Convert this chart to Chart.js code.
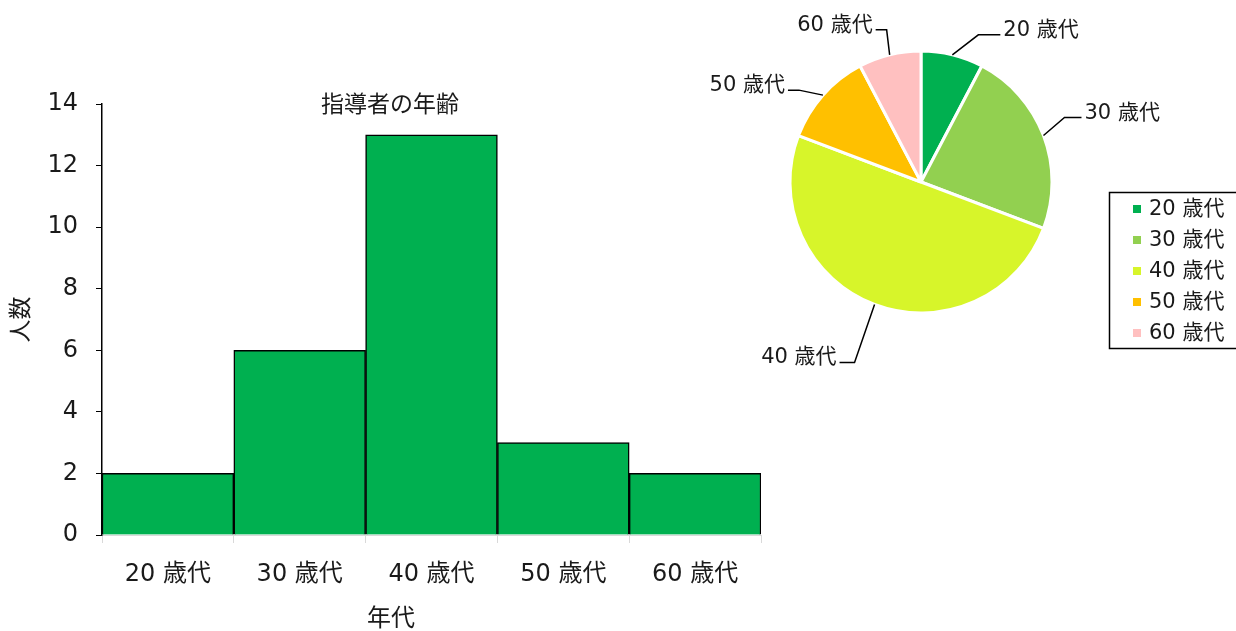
<!DOCTYPE html>
<html lang="ja">
<head>
  <meta charset="UTF-8" />
  <title>指導者の年齢</title>
  <script src="https://cdn.jsdelivr.net/npm/chart.js"></script>
  <style>
    body { margin: 0; background: #fff; }
    .wrap { position: relative; width: 1236px; height: 631px; overflow: hidden; }
    .wrap canvas { position: absolute; left: 0; top: 0; }
  </style>
</head>
<body>
  <div class="wrap">
    <canvas id="barChart" width="1236" height="631"></canvas>
    <canvas id="pieChart" width="1236" height="631"></canvas>
  </div>

  <script>
    const ageGroups = ['20 歳代', '30 歳代', '40 歳代', '50 歳代', '60 歳代'];
    const counts = [2, 6, 13, 3, 2];
    const yTicks = [0, 2, 4, 6, 8, 10, 12, 14];
    const pieColors = ['#00B050', '#92D050', '#D7F52A', '#FFC000', '#FFC0C0'];

    const FONT = '"DejaVu Sans", "Noto Sans CJK JP", sans-serif';
    const TEXT = '#1a1a1a';

    // titles that sit over the plot, centred on the left half
    const barTitles = {
      id: 'barTitles',
      afterDraw(chart) {
        const ctx = chart.ctx;
        ctx.save();
        ctx.fillStyle = TEXT;
        ctx.textAlign = 'center';
        ctx.textBaseline = 'middle';
        ctx.font = '23px ' + FONT;
        ctx.fillText('指導者の年齢', 390, 106);
        ctx.font = '24px ' + FONT;
        ctx.fillText('年代', 391, 620);
        ctx.restore();
      }
    };

    new Chart(document.getElementById('barChart'), {
      type: 'bar',
      data: {
        labels: ageGroups,
        datasets: [{
          data: counts,
          backgroundColor: '#00B050',
          borderColor: '#000',
          borderWidth: 1.5,
          barPercentage: 1,
          categoryPercentage: 1
        }]
      },
      options: {
        responsive: false,
        animation: false,
        layout: { padding: { left: 0, right: 475, top: 104, bottom: 0 } },
        plugins: { legend: { display: false }, tooltip: { enabled: false } },
        scales: {
          x: {
            offset: true,
            grid: { display: true, drawOnChartArea: false, offset: true, tickLength: 8, color: '#d9d9d9' },
            border: { color: '#d9d9d9' },
            ticks: { color: TEXT, font: { family: FONT, size: 24 }, padding: 17, maxRotation: 0 },
            afterFit(scale) { scale.height = 96; }
          },
          y: {
            min: 0,
            max: 14,
            afterBuildTicks(scale) { scale.ticks = yTicks.map(v => ({ value: v })); },
            grid: { display: true, drawOnChartArea: false, tickLength: 6, color: '#000' },
            border: { color: '#000', width: 1.5 },
            ticks: { color: TEXT, font: { family: FONT, size: 24 }, padding: 18 },
            title: { display: true, text: '人数', color: TEXT, font: { family: FONT, size: 23 }, padding: { top: 8 } },
            afterFit(scale) { scale.width = 102; }
          }
        }
      },
      plugins: [barTitles]
    });

    // leader geometry per slice: elbow offset from the slice edge, then tail length
    const leaders = [
      { dx: 26, dy: -20, tail: 22 },
      { dx: 21, dy: -18, tail: 17 },
      { dx: -20, dy: 58, tail: -15 },
      { dx: -24, dy: -5, tail: -11 },
      { dx: -3, dy: -25, tail: -11 }
    ];

    const pieLabels = {
      id: 'pieLabels',
      afterDatasetsDraw(chart) {
        const ctx = chart.ctx;
        const arcs = chart.getDatasetMeta(0).data;
        ctx.save();
        ctx.strokeStyle = '#000';
        ctx.lineWidth = 1.5;
        ctx.fillStyle = TEXT;
        ctx.font = '21px ' + FONT;
        ctx.textBaseline = 'alphabetic';
        arcs.forEach((arc, i) => {
          const p = arc.getProps(['x', 'y', 'startAngle', 'endAngle', 'outerRadius'], true);
          const mid = (p.startAngle + p.endAngle) / 2;
          const sx = p.x + Math.cos(mid) * p.outerRadius;
          const sy = p.y + Math.sin(mid) * p.outerRadius;
          const L = leaders[i];
          const ex = sx + L.dx, ey = sy + L.dy;
          const tx = ex + L.tail;
          ctx.beginPath();
          ctx.moveTo(sx, sy);
          ctx.lineTo(ex, ey);
          ctx.lineTo(tx, ey);
          ctx.stroke();
          ctx.textAlign = L.tail > 0 ? 'left' : 'right';
          ctx.fillText(chart.data.labels[i], tx + (L.tail > 0 ? 3 : -3), ey + 1);
        });
        ctx.restore();
      },
      afterDraw(chart) {
        const ctx = chart.ctx;
        const ds = chart.data.datasets[0];
        ctx.save();
        ctx.strokeStyle = '#000';
        ctx.lineWidth = 1.5;
        ctx.strokeRect(1109.5, 192.5, 140, 156);
        ctx.font = '21px ' + FONT;
        ctx.textAlign = 'left';
        ctx.textBaseline = 'middle';
        chart.data.labels.forEach((lab, i) => {
          const cy = 209 + i * 31;
          ctx.fillStyle = ds.backgroundColor[i];
          ctx.fillRect(1133, cy - 4, 8, 8);
          ctx.fillStyle = TEXT;
          ctx.fillText(lab, 1149, cy + 1);
        });
        ctx.restore();
      }
    };

    new Chart(document.getElementById('pieChart'), {
      type: 'pie',
      data: {
        labels: ageGroups,
        datasets: [{
          data: counts,
          backgroundColor: pieColors,
          borderColor: '#fff',
          borderWidth: 3
        }]
      },
      options: {
        responsive: false,
        animation: false,
        radius: 131,
        layout: { padding: { left: 791, right: 185, top: 52, bottom: 319 } },
        plugins: { legend: { display: false }, tooltip: { enabled: false } }
      },
      plugins: [pieLabels]
    });
  </script>
</body>
</html>
